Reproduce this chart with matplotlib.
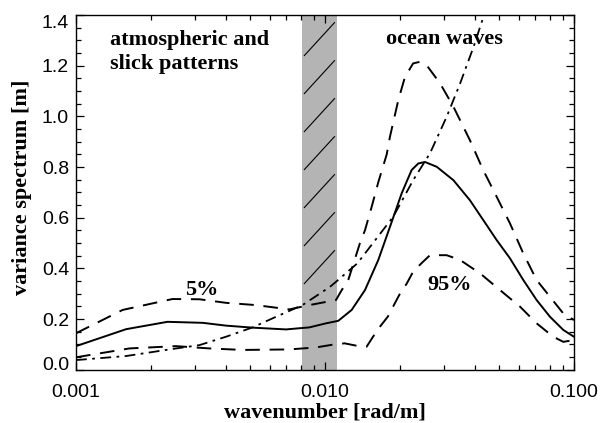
"""Variance spectrum vs wavenumber, mean and 5/95 % envelopes."""

import matplotlib

matplotlib.use("Agg")

import matplotlib.pyplot as plt
import numpy as np
from matplotlib.ticker import FixedLocator, FormatStrFormatter, MultipleLocator

# mean spectrum (solid)
mean_k = [0.001, 0.00159, 0.00233, 0.00323, 0.0040, 0.00512, 0.00697, 0.00865,
          0.01009, 0.01131, 0.0128, 0.01447, 0.01637, 0.01824, 0.02032,
          0.02228, 0.0237, 0.0252, 0.0281, 0.0328, 0.0382, 0.0432, 0.0489,
          0.0553, 0.0626, 0.0708, 0.0801, 0.0906, 0.100]
mean_v = [0.093, 0.160, 0.189, 0.185, 0.174, 0.166, 0.159, 0.167,
          0.183, 0.193, 0.236, 0.314, 0.433, 0.564, 0.696,
          0.788, 0.814, 0.820, 0.801, 0.748, 0.669, 0.591, 0.512,
          0.440, 0.354, 0.275, 0.209, 0.157, 0.130]

# upper envelope (dashed)
upper_k = [0.001, 0.00154, 0.00244, 0.00313, 0.0040, 0.00528, 0.00719,
           0.00865, 0.01107, 0.01167, 0.0124, 0.01382, 0.01447, 0.0154,
           0.01637, 0.0177, 0.01824, 0.0197, 0.02096, 0.0226, 0.0240,
           0.0256, 0.0290, 0.0328, 0.0382, 0.0432, 0.0489, 0.0553, 0.0626,
           0.0708, 0.0801, 0.0906, 0.100]
upper_v = [0.144, 0.236, 0.279, 0.278, 0.264, 0.255, 0.238,
           0.255, 0.275, 0.314, 0.354, 0.500, 0.550, 0.643,
           0.740, 0.850, 0.920, 1.064, 1.156, 1.209, 1.215,
           1.202, 1.130, 1.038, 0.906, 0.788, 0.683, 0.578, 0.459,
           0.354, 0.288, 0.222, 0.196]

# lower envelope (dashed)
lower_k = [0.001, 0.00164, 0.00252, 0.00343, 0.00467, 0.00719, 0.00922,
           0.01107, 0.0120, 0.0138, 0.0147, 0.01559, 0.01663, 0.0179, 0.0191,
           0.0200, 0.0213, 0.0226, 0.0244, 0.0264, 0.0308, 0.0349, 0.0420,
           0.0505, 0.0607, 0.0708, 0.0826, 0.0906, 0.100]
lower_v = [0.049, 0.084, 0.093, 0.084, 0.078, 0.080, 0.088,
           0.101, 0.104, 0.092, 0.091, 0.130, 0.170, 0.210, 0.263,
           0.300, 0.340, 0.387, 0.420, 0.452, 0.452, 0.433, 0.380,
           0.314, 0.249, 0.183, 0.130, 0.110, 0.117]

# reference slope (dash-dot)
ref_k = [0.001, 0.00159, 0.00237, 0.00313, 0.0040, 0.00512, 0.00636, 0.00812,
         0.01047, 0.01107, 0.0135, 0.0188, 0.0226, 0.0264, 0.0308, 0.0349,
         0.0395, 0.0433, 0.0450]
ref_v = [0.038, 0.054, 0.080, 0.097, 0.130, 0.167, 0.209, 0.255,
         0.327, 0.347, 0.420, 0.604, 0.748, 0.854, 0.998, 1.130,
         1.274, 1.393, 1.440]

# gap between the two regimes
band_k = [0.0081, 0.0112]

x_ticks = [0.001, 0.01, 0.1]
y_ticks = [0.0, 0.2, 0.4, 0.6, 0.8, 1.0, 1.2, 1.4]

SANS = "Liberation Sans"
SERIF = "Liberation Serif"
TXT = dict(family=SERIF, fontweight="bold", fontsize=16)

fig = plt.figure(figsize=(6.01, 4.23), dpi=100)
ax = fig.add_axes([0.1265, 0.126, 0.8285, 0.8385])

# shaded band with sparse diagonal strokes in its upper part
ax.axvspan(band_k[0], band_k[1], facecolor="#b4b4b4", linewidth=0, zorder=0)
for y0 in np.arange(0.34, 1.25, 0.15):
    ax.plot([band_k[0] * 1.02, band_k[1] * 0.975], [y0, y0 + 0.13],
            color="black", lw=0.8, zorder=1)

ax.plot(mean_k, mean_v, color="black", lw=1.4, ls="-")
ax.plot(upper_k, upper_v, color="black", lw=1.4, ls=(0, (7.5, 5)))
ax.plot(lower_k, lower_v, color="black", lw=1.4, ls=(0, (7.5, 5)))
ax.plot(ref_k, ref_v, color="black", lw=1.3, ls=(0, (6, 3, 1.5, 3)))

ax.set_xscale("log")
ax.set_xlim(0.001, 0.1)
ax.set_ylim(0.0, 1.4)
ax.xaxis.set_major_locator(FixedLocator(x_ticks))
ax.xaxis.set_major_formatter(FormatStrFormatter("%.3f"))
ax.yaxis.set_major_locator(FixedLocator(y_ticks))
ax.yaxis.set_minor_locator(MultipleLocator(0.05))
ax.yaxis.set_major_formatter(FormatStrFormatter("%.1f"))

ax.tick_params(which="both", direction="in", top=True, right=True,
               width=0.9, colors="black")
ax.tick_params(which="major", length=6)
ax.tick_params(which="minor", length=3.5)
ax.tick_params(axis="x", which="major", pad=10)
ax.tick_params(axis="y", which="major", pad=5)
for lab in ax.get_xticklabels() + ax.get_yticklabels():
    lab.set_family(SANS)
    lab.set_fontsize(14)
for side in ax.spines.values():
    side.set_linewidth(1.0)

# end labels of the y axis sit inside the axis range
yt = ax.yaxis.get_major_ticks()
yt[0].label1.set_verticalalignment("baseline")
yt[-1].label1.set_verticalalignment("top")

ax.set_xlabel("wavenumber [rad/m]", **TXT)
ax.xaxis.set_label_coords(0.5, -0.093)
ax.set_ylabel("variance spectrum [m]", **TXT)
ax.yaxis.set_label_coords(-0.088, 0.513)

ax.text(0.068, 0.915, "atmospheric and", transform=ax.transAxes,
        ha="left", va="baseline", **TXT)
ax.text(0.068, 0.847, "slick patterns", transform=ax.transAxes,
        ha="left", va="baseline", **TXT)
ax.text(0.6225, 0.917, "ocean waves", transform=ax.transAxes,
        ha="left", va="baseline", **TXT)
ax.text(0.00319, 0.295, "5%", ha="center", va="baseline", **TXT)
ax.text(0.0316, 0.313, "95%", ha="center", va="baseline", **TXT)

fig.savefig("out.png", dpi=100)
